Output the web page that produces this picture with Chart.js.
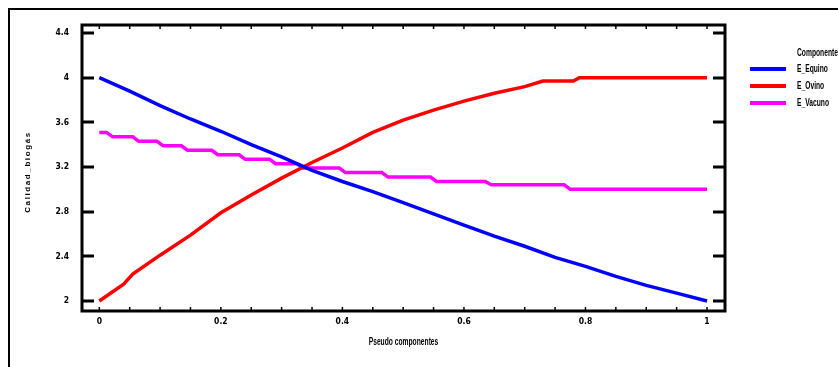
<!DOCTYPE html>
<html>
<head>
<meta charset="utf-8">
<script src="https://cdn.jsdelivr.net/npm/chart.js@4.4.1/dist/chart.umd.min.js"></script>
<style>
  html, body { margin: 0; padding: 0; background: #fff; }
  #wrap { width: 838px; height: 367px; position: relative; }
</style>
</head>
<body>
<div id="wrap"><canvas id="chart" width="838" height="367"></canvas></div>
<script>
// Pseudo component proportion (x) and biogas quality for each pure component
const equinoX = [0, 0.05, 0.1, 0.15, 0.2, 0.25, 0.3, 0.35, 0.4, 0.45, 0.5,
                 0.55, 0.6, 0.65, 0.7, 0.75, 0.8, 0.85, 0.9, 0.95, 1];
const equino  = [4.00, 3.88, 3.75, 3.63, 3.52, 3.40, 3.29, 3.17, 3.07, 2.98, 2.88,
                 2.78, 2.68, 2.58, 2.49, 2.39, 2.31, 2.22, 2.14, 2.07, 2.00];

const ovinoX = [0, 0.04, 0.055, 0.1, 0.15, 0.2, 0.25, 0.3, 0.35, 0.4, 0.45, 0.5,
                0.55, 0.6, 0.65, 0.7, 0.73, 0.78, 0.79, 0.85, 0.9, 0.95, 1];
const ovino  = [2.00, 2.15, 2.24, 2.41, 2.59, 2.79, 2.95, 3.10, 3.24, 3.37, 3.51, 3.62,
                3.71, 3.79, 3.86, 3.92, 3.97, 3.97, 4.00, 4.00, 4.00, 4.00, 4.00];

const vacunoX = [0, 0.012, 0.022, 0.055, 0.065, 0.095, 0.105, 0.135, 0.145, 0.185, 0.195,
                 0.23, 0.24, 0.28, 0.29, 0.325, 0.335, 0.395, 0.405, 0.465, 0.475,
                 0.545, 0.555, 0.635, 0.645, 0.765, 0.775, 1];
const vacuno  = [3.51, 3.51, 3.47, 3.47, 3.43, 3.43, 3.39, 3.39, 3.35, 3.35, 3.31,
                 3.31, 3.27, 3.27, 3.23, 3.23, 3.19, 3.19, 3.15, 3.15, 3.11,
                 3.11, 3.07, 3.07, 3.04, 3.04, 3.00, 3.00];

const seriesNames  = ['E_Equino', 'E_Ovino', 'E_Vacuno'];
const seriesColors = ['#0000ff', '#ff0000', '#ff00ff'];

const xTicks = [0, 0.2, 0.4, 0.6, 0.8, 1];
const xMinorStep = 0.05;
const yTicks = [2, 2.4, 2.8, 3.2, 3.6, 4, 4.4];

const legendTitle = 'Componente';
const xTitle = 'Pseudo componentes';
const yTitle = 'Calidad_biogás';

const TICK_FONT = '"DejaVu Sans Condensed", "Liberation Sans Narrow", sans-serif';
const TEXT_FONT = 'bold 10px "Liberation Sans", Arial, sans-serif';
const SQUEEZE = 0.67;

function pts(xs, ys) {
  return xs.map((x, i) => ({ x: x, y: ys[i] }));
}

// squeezed text, to get a narrow look from a regular face
function narrowText(ctx, text, x, y, align) {
  ctx.save();
  ctx.translate(x, y);
  ctx.scale(SQUEEZE, 1);
  ctx.textAlign = align;
  ctx.fillText(text, 0, 0);
  ctx.restore();
}

// frame, tick stubs, axis titles and legend
const decorations = {
  id: 'decorations',
  beforeDraw(chart) {
    const ctx = chart.ctx;
    ctx.save();
    ctx.fillStyle = '#fff';
    ctx.fillRect(0, 0, chart.width, chart.height);
    ctx.strokeStyle = '#000';
    ctx.lineWidth = 2;
    ctx.strokeRect(9, 9, chart.width + 20, chart.height + 20);
    ctx.restore();
  },
  afterDraw(chart) {
    const ctx = chart.ctx;
    const a = chart.chartArea;
    const xs = chart.scales.x, ys = chart.scales.y;
    ctx.save();
    ctx.strokeStyle = '#000';
    ctx.fillStyle = '#000';

    // plot box
    ctx.lineWidth = 3;
    ctx.strokeRect(a.left, a.top, a.right - a.left, a.bottom - a.top);

    // y stubs on both sides
    ctx.lineWidth = 3;
    yTicks.forEach(v => {
      const py = Math.round(ys.getPixelForValue(v));
      ctx.beginPath();
      ctx.moveTo(a.left, py); ctx.lineTo(a.left + 12, py);
      ctx.moveTo(a.right - 12, py); ctx.lineTo(a.right, py);
      ctx.stroke();
    });

    // small x ticks along top and bottom
    ctx.lineWidth = 1.5;
    for (let v = 0; v <= 1.0001; v += xMinorStep) {
      const px = xs.getPixelForValue(v);
      ctx.beginPath();
      ctx.moveTo(px, a.bottom - 1); ctx.lineTo(px, a.bottom - 4);
      ctx.moveTo(px, a.top + 1); ctx.lineTo(px, a.top + 4);
      ctx.stroke();
    }

    // axis titles
    ctx.font = TEXT_FONT;
    ctx.textBaseline = 'middle';
    narrowText(ctx, xTitle, (a.left + a.right) / 2, 342, 'center');

    ctx.save();
    ctx.translate(28, (a.top + a.bottom) / 2 + 4);
    ctx.rotate(-Math.PI / 2);
    ctx.font = 'bold 8px "Liberation Sans", Arial, sans-serif';
    ctx.letterSpacing = '1.6px';
    ctx.textAlign = 'center';
    ctx.fillText(yTitle, 0, 0);
    ctx.restore();

    // legend
    ctx.font = TEXT_FONT;
    narrowText(ctx, legendTitle, 797, 53, 'left');
    chart.data.datasets.forEach((ds, i) => {
      const ly = 69 + i * 17;
      ctx.strokeStyle = ds.borderColor;
      ctx.lineWidth = 4;
      ctx.beginPath();
      ctx.moveTo(750, ly); ctx.lineTo(786, ly);
      ctx.stroke();
      ctx.fillStyle = '#000';
      narrowText(ctx, ds.label, 797, ly, 'left');
    });
    ctx.restore();
  }
};

const seriesData = [pts(equinoX, equino), pts(ovinoX, ovino), pts(vacunoX, vacuno)];

new Chart(document.getElementById('chart'), {
  type: 'line',
  data: {
    datasets: seriesNames.map((name, i) => ({
      label: name,
      data: seriesData[i],
      borderColor: seriesColors[i],
      backgroundColor: seriesColors[i],
      borderWidth: 3.5,
      pointRadius: 0,
      tension: 0,
      fill: false
    }))
  },
  options: {
    responsive: false,
    animation: false,
    layout: { padding: { top: 25, right: 113, left: 0, bottom: 0 } },
    plugins: { legend: { display: false }, tooltip: { enabled: false } },
    scales: {
      x: {
        type: 'linear',
        min: -0.0285,
        max: 1.0296,
        afterBuildTicks: s => { s.ticks = xTicks.map(v => ({ value: v })); },
        afterFit: s => { s.height = 56; },
        grid: { display: false, drawTicks: false },
        border: { display: false },
        ticks: {
          padding: 6,
          color: '#000',
          font: { family: TICK_FONT, size: 8.5, weight: 'bold' },
          callback: v => String(v)
        }
      },
      y: {
        type: 'linear',
        min: 1.91,
        max: 4.472,
        afterBuildTicks: s => { s.ticks = yTicks.map(v => ({ value: v })); },
        afterFit: s => { s.width = 82; },
        grid: { display: false, drawTicks: false },
        border: { display: false },
        ticks: {
          padding: 13,
          color: '#000',
          font: { family: TICK_FONT, size: 8.5, weight: 'bold' },
          callback: v => String(v)
        }
      }
    }
  },
  plugins: [decorations]
});
</script>
</body>
</html>
